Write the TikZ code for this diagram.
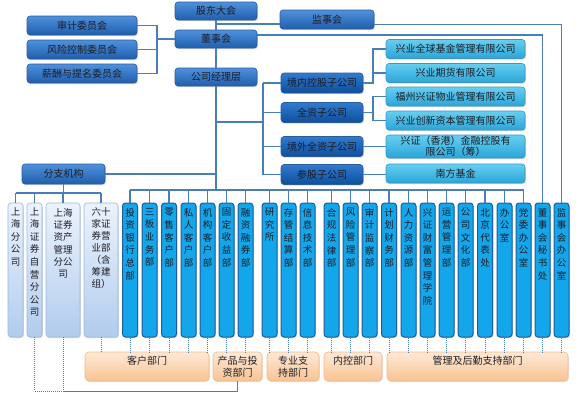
\documentclass[tikz,border=0pt]{standalone}
\usepackage{fontspec}
\newfontfamily\cjk{Noto Sans CJK SC}
\usetikzlibrary{shadows,calc}
\definecolor{lineblue}{HTML}{4A7EBB}
\definecolor{txt}{HTML}{1C1C24}
\definecolor{dkTop}{HTML}{4F91DC}
\definecolor{dkBot}{HTML}{1F5EAC}
\definecolor{dkBorder}{HTML}{2A5C9C}
\definecolor{dsTop}{HTML}{2F7BD0}
\definecolor{dsBot}{HTML}{0F4E9C}
\definecolor{cyTop}{HTML}{66CFF0}
\definecolor{cyBot}{HTML}{2AA5D9}
\definecolor{cyBorder}{HTML}{3A96C6}
\definecolor{deptFill}{HTML}{13A6EA}
\definecolor{deptBorder}{HTML}{1F5C9C}
\definecolor{brTop}{HTML}{EBF3FD}
\definecolor{brBot}{HTML}{B2CCEE}
\definecolor{brBorder}{HTML}{9BB9E0}
\definecolor{orTop}{HTML}{FEE9D6}
\definecolor{orBot}{HTML}{F9C392}
\definecolor{orBorder}{HTML}{F0B98A}
\begin{document}
\begin{tikzpicture}[x=1pt,y=-1pt,
  every node/.style={font=\cjk\fontsize{10}{12}\selectfont, text=txt},
  conn/.style={draw=lineblue, line width=1.3pt},
  dotconn/.style={draw=lineblue, line width=1pt, densely dotted},
  boxbase/.style={rounded corners=3pt, inner sep=0pt, drop shadow={shadow xshift=0.8pt, shadow yshift=-1.2pt, opacity=0.3}},
  dk/.style={boxbase, top color=dkTop, bottom color=dkBot, draw=dkBorder, line width=0.6pt},
  dksub/.style={boxbase, top color=dsTop, bottom color=dsBot, draw=dkBorder, line width=0.6pt, minimum width=82pt, minimum height=20pt},
  cy/.style={boxbase, top color=cyTop, bottom color=cyBot, draw=cyBorder, line width=0.6pt, minimum width=139pt, minimum height=19pt},
  dept/.style={boxbase, fill=deptFill, draw=deptBorder, line width=1pt, minimum width=15pt, minimum height=134pt},
  branch/.style={boxbase, top color=brTop, bottom color=brBot, draw=brBorder, line width=0.6pt, minimum height=134pt},
  orbox/.style={rounded corners=4pt, inner sep=0pt, top color=orTop, bottom color=orBot, draw=orBorder, line width=0.6pt, minimum height=29pt, drop shadow={shadow xshift=0.8pt, shadow yshift=-1.2pt, opacity=0.2}},
  vtext/.style={anchor=north, align=center, inner sep=0pt, font=\cjk\fontsize{9.5}{12.6}\selectfont},
  otext/.style={anchor=north, align=center, inner sep=0pt, font=\cjk\fontsize{10}{11.5}\selectfont}
]
\useasboundingbox[fill=white] (0,0) rectangle (580,400);

% ---- top governance ----
\node[dk, minimum width=110pt, minimum height=19pt] (sj) at (82,25.5) {审计委员会};
\node[dk, minimum width=110pt, minimum height=19pt] (fk) at (82,49.5) {风险控制委员会};
\node[dk, minimum width=110pt, minimum height=19pt] (xc) at (82,73.5) {薪酬与提名委员会};
\node[dk, minimum width=82pt, minimum height=18pt] (gd) at (216,11) {股东大会};
\node[dk, minimum width=82pt, minimum height=18pt] (ds) at (216,39) {董事会};
\node[dk, minimum width=82pt, minimum height=18pt] (jl) at (216,77) {公司经理层};
\node[dk, minimum width=94pt, minimum height=19pt] (js) at (327,19.5) {监事会};
\node[dk, minimum width=83pt, minimum height=20pt] (fz) at (63.5,174) {分支机构};

% ---- subsidiaries ----
\node[dksub] (s1) at (322,83) {境内控股子公司};
\node[dksub] (s2) at (322,112.5) {全资子公司};
\node[dksub] (s3) at (322,146.5) {境外全资子公司};
\node[dksub] (s4) at (322,174.5) {参股子公司};
\node[cy] (k1) at (455.5,49) {兴业全球基金管理有限公司};
\node[cy] (k2) at (455.5,73) {兴业期货有限公司};
\node[cy] (k3) at (455.5,96.5) {福州兴证物业管理有限公司};
\node[cy] (k4) at (455.5,120.5) {兴业创新资本管理有限公司};
\node[cy, minimum height=23pt, align=center, font=\cjk\fontsize{10}{11}\selectfont] (k5) at (455.5,146.5) {兴证（香港）金融控股有\\限公司（筹）};
\node[cy] (k6) at (455.5,173.5) {南方基金};

% ---- branch columns ----
\node[branch, minimum width=15pt] (b1) at (15.5,270) {};
\node[branch, minimum width=15pt] (b2) at (34.5,270) {};
\node[branch, minimum width=34pt] (b3) at (63,270) {};
\node[branch, minimum width=34pt] (b4) at (101,270) {};
\node[vtext] (b1t) at (15.5,207) {上\\海\\分\\公\\司};
\node[vtext] (b2t) at (34.5,207) {上\\海\\证\\券\\自\\营\\分\\公\\司};
\node[vtext, font=\cjk\fontsize{9.5}{12.3}\selectfont] (b3t) at (63,208) {上海\\证券\\资产\\管理\\分公\\司};
\node[vtext, font=\cjk\fontsize{9.5}{12.1}\selectfont] (b4t) at (101,207) {六十\\家证\\券营\\业部\\（含\\筹建\\组）};

% ---- department columns ----
\foreach \n/\x/\t in {
  c1/130/{投\\资\\银\\行\\总\\部},
  c2/149.5/{三\\板\\业\\务\\部},
  c3/169/{零\\售\\客\\户\\部},
  c4/188.5/{私\\人\\客\\户\\部},
  c5/207.5/{机\\构\\客\\户\\部},
  c6/226.5/{固\\定\\收\\益\\部},
  c7/245.5/{融\\资\\融\\券\\部},
  c8/269.5/{研\\究\\所},
  c9/288.5/{存\\管\\结\\算\\部},
  c10/307.5/{信\\息\\技\\术\\部},
  c11/331.5/{合\\规\\法\\律\\部},
  c12/350.5/{风\\险\\管\\理\\部},
  c13/369.5/{审\\计\\监\\察\\部},
  c14/389/{计\\划\\财\\务\\部},
  c15/408.5/{人\\力\\资\\源\\部},
  c16/427.5/{兴\\证\\财\\富\\管\\理\\学\\院},
  c17/446.5/{运\\营\\管\\理\\部},
  c18/465.5/{公\\司\\文\\化\\部},
  c19/485/{北\\京\\代\\表\\处},
  c20/504.5/{办\\公\\室},
  c21/523.5/{党\\委\\办\\公\\室},
  c22/542.5/{董\\事\\会\\秘\\书\\处},
  c23/561.5/{监\\事\\会\\办\\公\\室}}
{
  \node[dept] (\n) at (\x,270) {};
  \node[vtext] (\n t) at (\x,208) {\t};
}

% ---- bottom category boxes ----
\node[orbox, minimum width=124pt] (kh) at (147,366.5) {};
\node[orbox, minimum width=49pt] (cp) at (237.5,366.5) {};
\node[orbox, minimum width=52pt] (zy) at (293,366.5) {};
\node[orbox, minimum width=58pt] (nk) at (353,366.5) {};
\node[orbox, minimum width=181pt] (gl) at (477.5,366.5) {};
\node[otext] (khT) at ([yshift=-4.5pt]kh.north) {客户部门};
\node[otext] (cpT) at ([yshift=-4.5pt]cp.north) {产品与投\\资部门};
\node[otext] (zyT) at ([yshift=-4.5pt]zy.north) {专业支\\持部门};
\node[otext] (nkT) at ([yshift=-4.5pt]nk.north) {内控部门};
\node[otext] (glT) at ([yshift=-4.5pt]gl.north) {管理及后勤支持部门};

% ---- connectors: governance ----
\coordinate (cm) at (157,39);
\draw[conn] (sj.east) -| (cm);
\draw[conn] (xc.east) -| (cm);
\draw[conn] (fk.east) -- (fk.east -| cm);
\draw[conn] (cm) -- (ds.west);
\draw[conn] (gd.south) -- (ds.north);
\coordinate (jsj) at (216,24);
\draw[conn] (jsj) -- (jsj -| js.west);
\draw[conn] (ds.south) -- (jl.north);
\coordinate (bus) at (216,190);
\draw[conn] (jl.south) -- (bus);
\draw[conn] (c1.north |- bus) -- (c21.north |- bus);
\foreach \c in {c1,c2,c3,c4,c5,c6,c7,c8,c9,c10,c11,c12,c13,c14,c15,c16,c17,c18,c19,c20,c21}
  \draw[conn] (\c.north |- bus) -- (\c.north);
\draw[conn] ([yshift=4pt]ds.east) -| (c22.north);
\draw[conn] ([yshift=-5pt]js.east) -| (c23.north);
\draw[conn] (fz.east) -- (fz.east -| jl.south);

% ---- connectors: subsidiaries ----
\coordinate (sb) at (263,122);
\draw[conn] (sb -| jl.south) -- (sb);
\draw[conn] (s1.west -| sb) -- (s4.west -| sb);
\foreach \s in {s1,s2,s3,s4}
  \draw[conn] (\s.west -| sb) -- (\s.west);
\coordinate (kb) at (373,0);
\draw[conn] (s1.east) -| (kb |- k1.west) -- (k1.west);
\draw[conn] (kb |- k2.west) -- (k2.west);
\draw[conn] (s2.east) -- (s2.east -| kb);
\draw[conn] (k3.west) -- (k3.west -| kb) -- (k4.west -| kb) -- (k4.west);
\draw[conn] (s3.east) -- (s3.east -| k5.west);
\draw[conn] (s4.east) -- (s4.east -| k6.west);

% ---- connectors: branches ----
\coordinate (fb) at (63.5,193);
\draw[conn] (fz.south) -- (fz.south |- fb);
\draw[conn] (b1.north |- fb) -- (b4.north |- fb);
\foreach \b in {b1,b2,b3,b4}
  \draw[conn] (\b.north |- fb) -- (\b.north);

% ---- dotted links to categories ----
\foreach \c in {b4,c1,c2,c3,c4,c5}
  \draw[dotconn] (\c.south) -- (\c.south |- kh.north);
\foreach \c in {c6,c7}
  \draw[dotconn] (\c.south) -- (\c.south |- cp.north);
\foreach \c in {c8,c9,c10}
  \draw[dotconn] (\c.south) -- (\c.south |- zy.north);
\foreach \c in {c11,c12,c13}
  \draw[dotconn] (\c.south) -- (\c.south |- nk.north);
\foreach \c in {c14,c15,c16,c17,c18,c19,c20,c21,c22,c23}
  \draw[dotconn] (\c.south) -- (\c.south |- gl.north);
\coordinate (bl) at (0,391);
\draw[dotconn] (b2.south) -- (b2.south |- bl) -- (b3.south |- bl);
\draw[dotconn] (b3.south) -- (b3.south |- bl);
\draw[conn, line width=1pt] (b3.south |- bl) -| (cp.south);
\end{tikzpicture}
\end{document}
